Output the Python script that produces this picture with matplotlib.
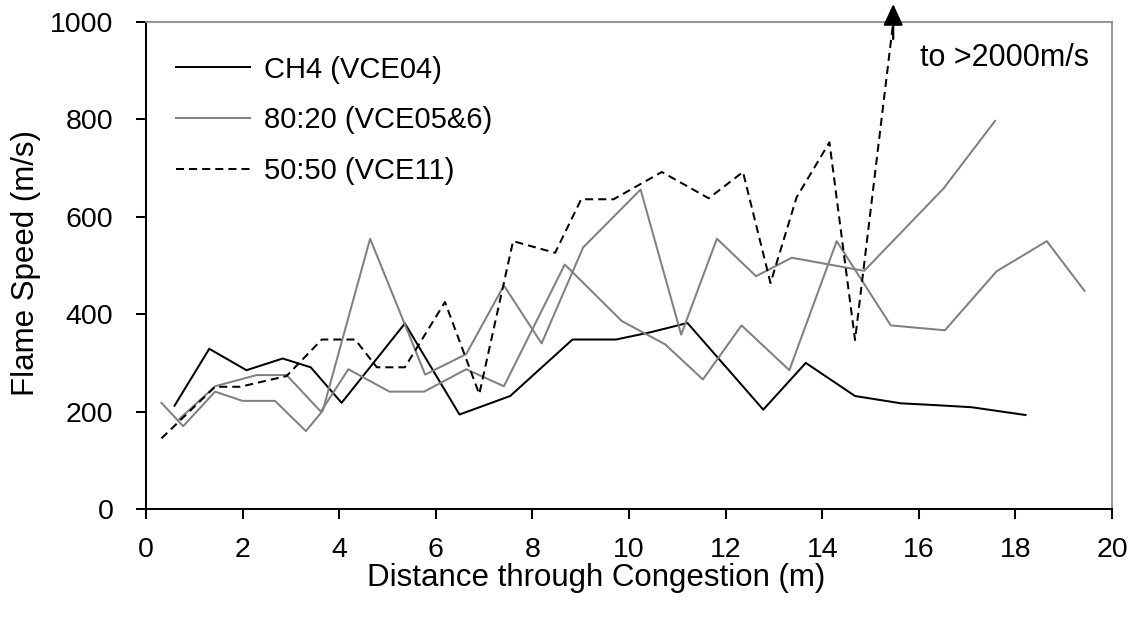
import matplotlib
matplotlib.use("Agg")
import matplotlib.pyplot as plt

# ---- data ----
ch4_x = [0.59, 1.31, 2.08, 2.83, 3.41, 4.05, 5.36, 6.49, 7.54, 8.83, 9.73, 10.45,
         11.21, 12.78, 13.66, 14.68, 15.63, 16.4, 17.09, 18.21]
ch4_y = [212, 329, 285, 309, 291, 218, 381, 194, 232, 348, 348, 363,
         382, 204, 300, 232, 217, 213, 209, 193]

mix8020a_x = [0.32, 0.77, 1.43, 2.0, 2.67, 3.31, 3.66, 4.64, 5.78, 6.63, 7.41, 8.19,
              9.05, 10.24, 11.08, 11.82, 12.63, 13.37, 14.87, 16.51, 17.58]
mix8020a_y = [218, 170, 241, 222, 222, 160, 202, 555, 276, 318, 459, 340,
              537, 656, 358, 555, 478, 516, 489, 658, 797]

mix8020b_x = [0.67, 1.43, 2.29, 2.91, 3.62, 4.19, 5.04, 5.76, 6.63, 7.41, 8.67, 9.85,
              10.75, 11.53, 12.33, 13.32, 14.3, 15.42, 16.54, 17.61, 18.65, 19.43]
mix8020b_y = [183, 252, 275, 275, 200, 287, 241, 241, 287, 252, 502, 386,
              338, 266, 377, 285, 550, 377, 367, 488, 550, 448]

mix5050_x = [0.32, 1.43, 1.95, 2.91, 3.64, 4.33, 4.78, 5.36, 6.19, 6.9, 7.6, 8.47,
             9.01, 9.68, 10.68, 11.65, 12.36, 12.93, 13.47, 14.15, 14.68, 15.47]
mix5050_y = [145, 251, 251, 273, 348, 348, 291, 291, 425, 236, 550, 526,
             636, 636, 692, 638, 692, 464, 640, 753, 347, 1000]

labels = ["CH4 (VCE04)", "80:20 (VCE05&6)", "50:50 (VCE11)"]
x_ticks = [0, 2, 4, 6, 8, 10, 12, 14, 16, 18, 20]
y_ticks = [0, 200, 400, 600, 800, 1000]

plt.rcParams['font.family'] = ['Liberation Sans', 'DejaVu Sans']

W, H = 1135, 620
fig = plt.figure(figsize=(W / 100, H / 100), dpi=100)
ax = fig.add_axes([146 / W, 1 - 509 / H, (1112 - 146) / W, (509 - 22) / H])

lw = 1.45
ax.plot(ch4_x, ch4_y, color='black', lw=lw, label=labels[0])
ax.plot(mix8020a_x, mix8020a_y, color='#808080', lw=lw, label=labels[1])
ax.plot(mix8020b_x, mix8020b_y, color='#808080', lw=lw)
ax.plot(mix5050_x, mix5050_y, color='black', lw=lw, dashes=(4, 2.5), label=labels[2])

ax.set_xlim(0, 20)
ax.set_ylim(0, 1000)
ax.set_xticks(x_ticks)
ax.set_yticks(y_ticks)
ax.tick_params(axis='both', labelsize=20.5, width=1.45, length=7.5, direction='out')
ax.tick_params(axis='x', pad=13)
ax.tick_params(axis='y', pad=16)

for s in ['top', 'right']:
    ax.spines[s].set_color('#8c8c8c')
    ax.spines[s].set_linewidth(1.3)
for s in ['left', 'bottom']:
    ax.spines[s].set_color('black')
    ax.spines[s].set_linewidth(1.45)

# arrow on the 50:50 spike
ax.annotate('', xy=(15.47, 1037), xytext=(15.47, 965),
            arrowprops=dict(arrowstyle='-|>,head_length=0.65,head_width=0.3',
                            color='black', lw=1.6, mutation_scale=20,
                            shrinkA=0, shrinkB=0),
            annotation_clip=False)
ax.text(16.02, 909, "to >2000m/s", fontsize=22, ha='left', va='baseline')

leg = ax.legend(loc='upper left', bbox_to_anchor=(0.031, 0.931), frameon=False,
                fontsize=21, handlelength=2.53, handletextpad=0.48,
                labelspacing=0.78, borderpad=0, borderaxespad=0)

fig.text(596 / W, 1 - 586 / H, "Distance through Congestion (m)", fontsize=22.5,
         ha='center', va='baseline')
fig.text(26 / W, 1 - 263 / H, "Flame Speed (m/s)", fontsize=22.5, rotation=90,
         ha='center', va='center')

fig.savefig("out.png", dpi=100)
